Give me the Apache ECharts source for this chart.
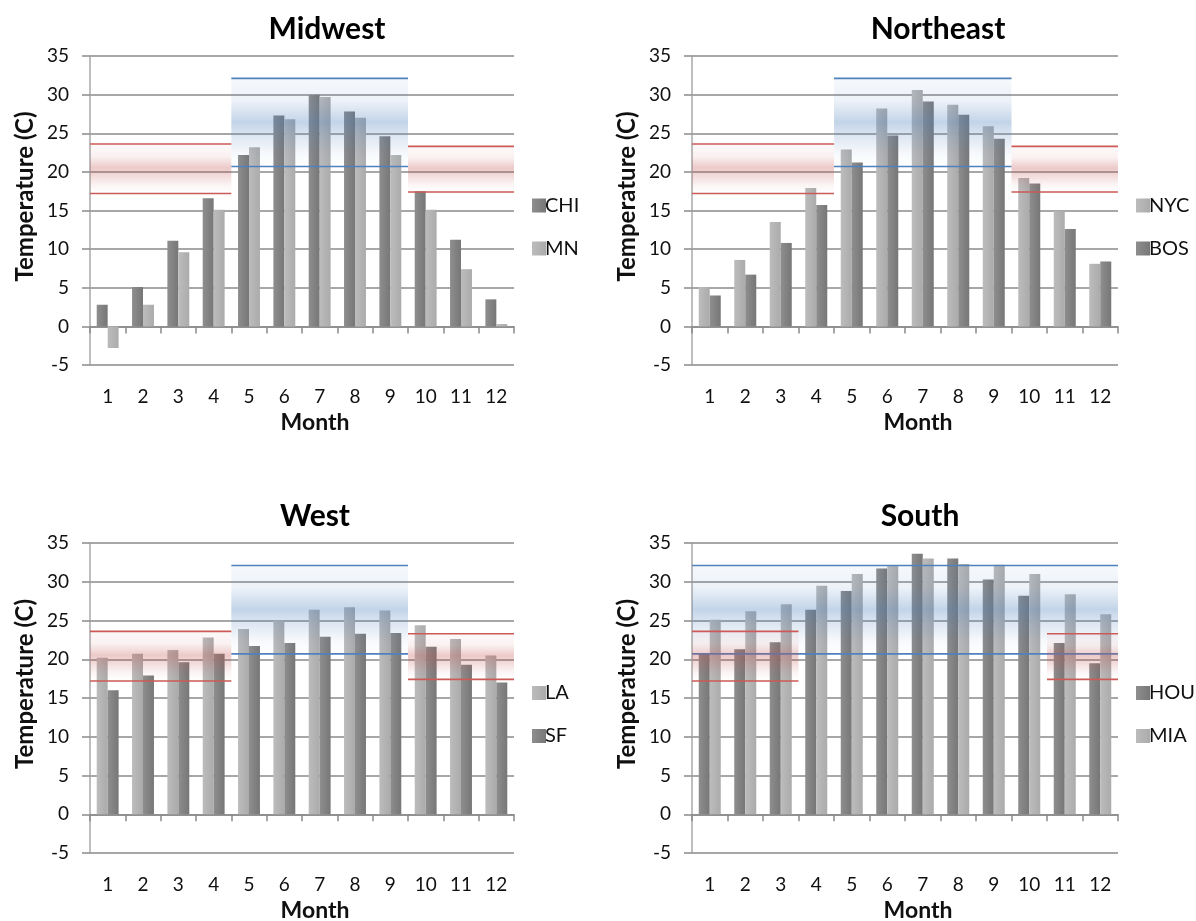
<!DOCTYPE html>
<html>
<head>
<meta charset="utf-8">
<title>Monthly temperatures by region</title>
<script src="https://cdn.jsdelivr.net/npm/echarts@6/dist/echarts.min.js"></script>
<style>
  html, body { margin: 0; padding: 0; background: #ffffff; }
  #chart { width: 1196px; height: 921px; }
</style>
</head>
<body>
<div id="chart"></div>
<script>
// Month categories and y-axis ticks
const months = ['1', '2', '3', '4', '5', '6', '7', '8', '9', '10', '11', '12'];
const tempMin = -5;
const tempMax = 35;
const tempStep = 5;

// Average monthly temperatures (C)
const CHI = [2.8, 5.1, 11.1, 16.6, 22.2, 27.3, 30.0, 27.8, 24.6, 17.5, 11.2, 3.5];
const MN  = [-2.8, 2.8, 9.6, 15.1, 23.2, 26.8, 29.7, 27.0, 22.2, 15.1, 7.4, 0.3];
const NYC = [5.1, 8.6, 13.5, 17.9, 22.9, 28.2, 30.6, 28.7, 25.9, 19.2, 14.9, 8.1];
const BOS = [4.0, 6.7, 10.8, 15.7, 21.2, 24.7, 29.1, 27.4, 24.3, 18.5, 12.6, 8.4];
const LA  = [20.2, 20.7, 21.2, 22.8, 23.9, 25.0, 26.4, 26.7, 26.3, 24.4, 22.6, 20.5];
const SF  = [16.0, 17.9, 19.6, 20.7, 21.7, 22.1, 22.9, 23.3, 23.4, 21.6, 19.3, 17.0];
const HOU = [20.8, 21.3, 22.2, 26.4, 28.8, 31.7, 33.6, 33.0, 30.3, 28.2, 22.1, 19.5];
const MIA = [25.1, 26.2, 27.1, 29.5, 31.0, 32.1, 33.0, 32.3, 32.2, 31.0, 28.4, 25.8];

// Comfort ranges (C): [low, high]
const warmRange = [20.7, 32.1];
const coolRangeEarly = [17.2, 23.6];
const coolRangeLate = [17.4, 23.3];

// Month spans (1-based, inclusive) for each comfort range
const warmMonthsNorth = [5, 9];
const coolEarlyNorth = [1, 4];
const coolLateNorth = [10, 12];
const warmMonthsSouth = [1, 12];
const coolEarlySouth = [1, 3];
const coolLateSouth = [11, 12];

const DARK = 'dark', LIGHT = 'light';
const panels = [
  { title: 'Midwest', cities: [['CHI', CHI, DARK], ['MN', MN, LIGHT]],
    warm: [warmMonthsNorth], cool: [coolEarlyNorth, coolLateNorth] },
  { title: 'Northeast', cities: [['NYC', NYC, LIGHT], ['BOS', BOS, DARK]],
    warm: [warmMonthsNorth], cool: [coolEarlyNorth, coolLateNorth] },
  { title: 'West', cities: [['LA', LA, LIGHT], ['SF', SF, DARK]],
    warm: [warmMonthsNorth], cool: [coolEarlyNorth, coolLateNorth] },
  { title: 'South', cities: [['HOU', HOU, DARK], ['MIA', MIA, LIGHT]],
    warm: [warmMonthsSouth], cool: [coolEarlySouth, coolLateSouth] }
];

// Plot-area placement of the four panels
const layout = [
  { left: 90,  top: 56,  width: 424, height: 309, titleX: 322 },
  { left: 692, top: 56,  width: 426, height: 309, titleX: 933 },
  { left: 90,  top: 543, width: 424, height: 310, titleX: 310 },
  { left: 692, top: 543, width: 426, height: 310, titleX: 915 }
];

const FONT = 'Lato, "Open Sans", "DejaVu Sans", sans-serif';
const TEXT = '#101010';
const GRID_LINE = '#8a8a8a';

const barFill = {
  dark: new echarts.graphic.LinearGradient(0, 0, 1, 0, [
    { offset: 0, color: '#8e8e8e' }, { offset: 1, color: '#777777' }]),
  light: new echarts.graphic.LinearGradient(0, 0, 1, 0, [
    { offset: 0, color: '#bcbcbc' }, { offset: 1, color: '#ababab' }])
};

const bandStyles = {
  warm: {
    line: '#4f81bd',
    fill: [
      { offset: 0.00, color: 'rgba(79,129,189,0.05)' },
      { offset: 0.25, color: 'rgba(79,129,189,0.10)' },
      { offset: 0.50, color: 'rgba(79,129,189,0.34)' },
      { offset: 0.62, color: 'rgba(79,129,189,0.22)' },
      { offset: 0.85, color: 'rgba(79,129,189,0.05)' },
      { offset: 1.00, color: 'rgba(79,129,189,0.00)' }
    ]
  },
  cool: {
    line: '#cc5a57',
    fill: [
      { offset: 0.00, color: 'rgba(192,80,77,0.03)' },
      { offset: 0.25, color: 'rgba(192,80,77,0.08)' },
      { offset: 0.48, color: 'rgba(192,80,77,0.30)' },
      { offset: 0.62, color: 'rgba(192,80,77,0.22)' },
      { offset: 0.85, color: 'rgba(192,80,77,0.05)' },
      { offset: 1.00, color: 'rgba(192,80,77,0.00)' }
    ]
  }
};

// Shaded comfort band with its upper and lower boundary lines
function bandRenderer(style) {
  return function (params, api) {
    const bw = api.size([1, 0])[0];
    const x0 = api.coord([api.value(0), 0])[0] - bw / 2;
    const x1 = api.coord([api.value(1), 0])[0] + bw / 2;
    const yHigh = api.coord([0, api.value(3)])[1];
    const yLow = api.coord([0, api.value(2)])[1];
    return {
      type: 'group',
      children: [
        { type: 'rect', shape: { x: x0, y: yHigh, width: x1 - x0, height: yLow - yHigh },
          style: { fill: new echarts.graphic.LinearGradient(0, 0, 0, 1, style.fill) } },
        { type: 'line', shape: { x1: x0, y1: yHigh, x2: x1, y2: yHigh },
          style: { stroke: style.line, lineWidth: 1.6 } },
        { type: 'line', shape: { x1: x0, y1: yLow, x2: x1, y2: yLow },
          style: { stroke: style.line, lineWidth: 1.6 } }
      ]
    };
  };
}

const option = {
  backgroundColor: '#ffffff',
  animation: false,
  title: [], grid: [], xAxis: [], yAxis: [], legend: [], series: [], graphic: []
};

panels.forEach(function (p, i) {
  const g = layout[i];
  option.title.push({
    text: p.title, left: g.titleX, top: g.top - 47, textAlign: 'center',
    textStyle: { fontFamily: FONT, fontWeight: 'bold', fontSize: 30, color: '#000' }
  });
  option.grid.push({ left: g.left, top: g.top, width: g.width, height: g.height });

  // axis drawn through zero, with ticks between months
  option.xAxis.push({
    type: 'category', data: months, gridIndex: i, position: 'bottom',
    axisLine: { show: true, onZero: true, lineStyle: { color: GRID_LINE, width: 1.5 } },
    axisTick: { show: true, interval: 0, length: 7, lineStyle: { color: GRID_LINE, width: 1.5 } },
    axisLabel: { show: false }, splitLine: { show: false }
  });
  // month labels along the bottom edge
  option.xAxis.push({
    type: 'category', data: months, gridIndex: i, position: 'bottom',
    axisLine: { show: false, onZero: false }, axisTick: { show: false },
    axisLabel: { show: true, interval: 0, margin: 22, fontFamily: FONT, fontSize: 19, color: TEXT },
    splitLine: { show: false }
  });
  option.yAxis.push({
    type: 'value', gridIndex: i, min: tempMin, max: tempMax, interval: tempStep,
    axisLine: { show: true, lineStyle: { color: '#a8a8a8', width: 1.5 } },
    axisTick: { show: true, length: 8, lineStyle: { color: GRID_LINE, width: 1.5 } },
    axisLabel: { margin: 21, fontFamily: FONT, fontSize: 19, color: TEXT },
    splitLine: { show: true, lineStyle: { color: GRID_LINE, width: 1.5 } }
  });

  p.cities.forEach(function (c) {
    option.series.push({
      name: c[0], type: 'bar', data: c[1],
      xAxisIndex: 2 * i, yAxisIndex: i,
      barGap: '0%', barCategoryGap: '38%',
      itemStyle: { color: barFill[c[2]] },
      z: 2, silent: true
    });
  });

  option.series.push({
    type: 'custom', name: p.title + ' warm', xAxisIndex: 2 * i, yAxisIndex: i,
    renderItem: bandRenderer(bandStyles.warm), silent: true, z: 5, clip: false,
    encode: { x: [0, 1], y: [2, 3] },
    data: p.warm.map(function (m) { return [m[0] - 1, m[1] - 1, warmRange[0], warmRange[1]]; })
  });
  option.series.push({
    type: 'custom', name: p.title + ' cool', xAxisIndex: 2 * i, yAxisIndex: i,
    renderItem: bandRenderer(bandStyles.cool), silent: true, z: 6, clip: false,
    encode: { x: [0, 1], y: [2, 3] },
    data: p.cool.map(function (m, k) {
      const r = k === 0 ? coolRangeEarly : coolRangeLate;
      return [m[0] - 1, m[1] - 1, r[0], r[1]];
    })
  });

  option.legend.push({
    data: p.cities.map(function (c) { return c[0]; }),
    orient: 'vertical', left: g.left + g.width + 13, top: g.top + g.height / 2 - 20,
    icon: 'rect', itemWidth: 14, itemHeight: 14, itemGap: 23, selectedMode: false,
    textStyle: { fontFamily: FONT, fontSize: 20, color: TEXT, padding: [0, 0, 0, -6] }
  });

  option.graphic.push({
    type: 'text',
    x: g.left + g.width / 2 + 13, y: g.top + g.height + 58,
    style: { text: 'Month', fontFamily: FONT, fontWeight: 'bold', fontSize: 23,
             fill: TEXT, align: 'center', verticalAlign: 'middle' }
  });
  option.graphic.push({
    type: 'text',
    x: g.left - 65, y: g.top + g.height / 2 - 14, rotation: Math.PI / 2,
    style: { text: 'Temperature (C)', fontFamily: FONT, fontWeight: 'bold', fontSize: 24,
             fill: TEXT, align: 'center', verticalAlign: 'middle' }
  });
});

const chart = echarts.init(document.getElementById('chart'), null, { renderer: 'canvas' });
chart.setOption(option);
</script>
</body>
</html>
